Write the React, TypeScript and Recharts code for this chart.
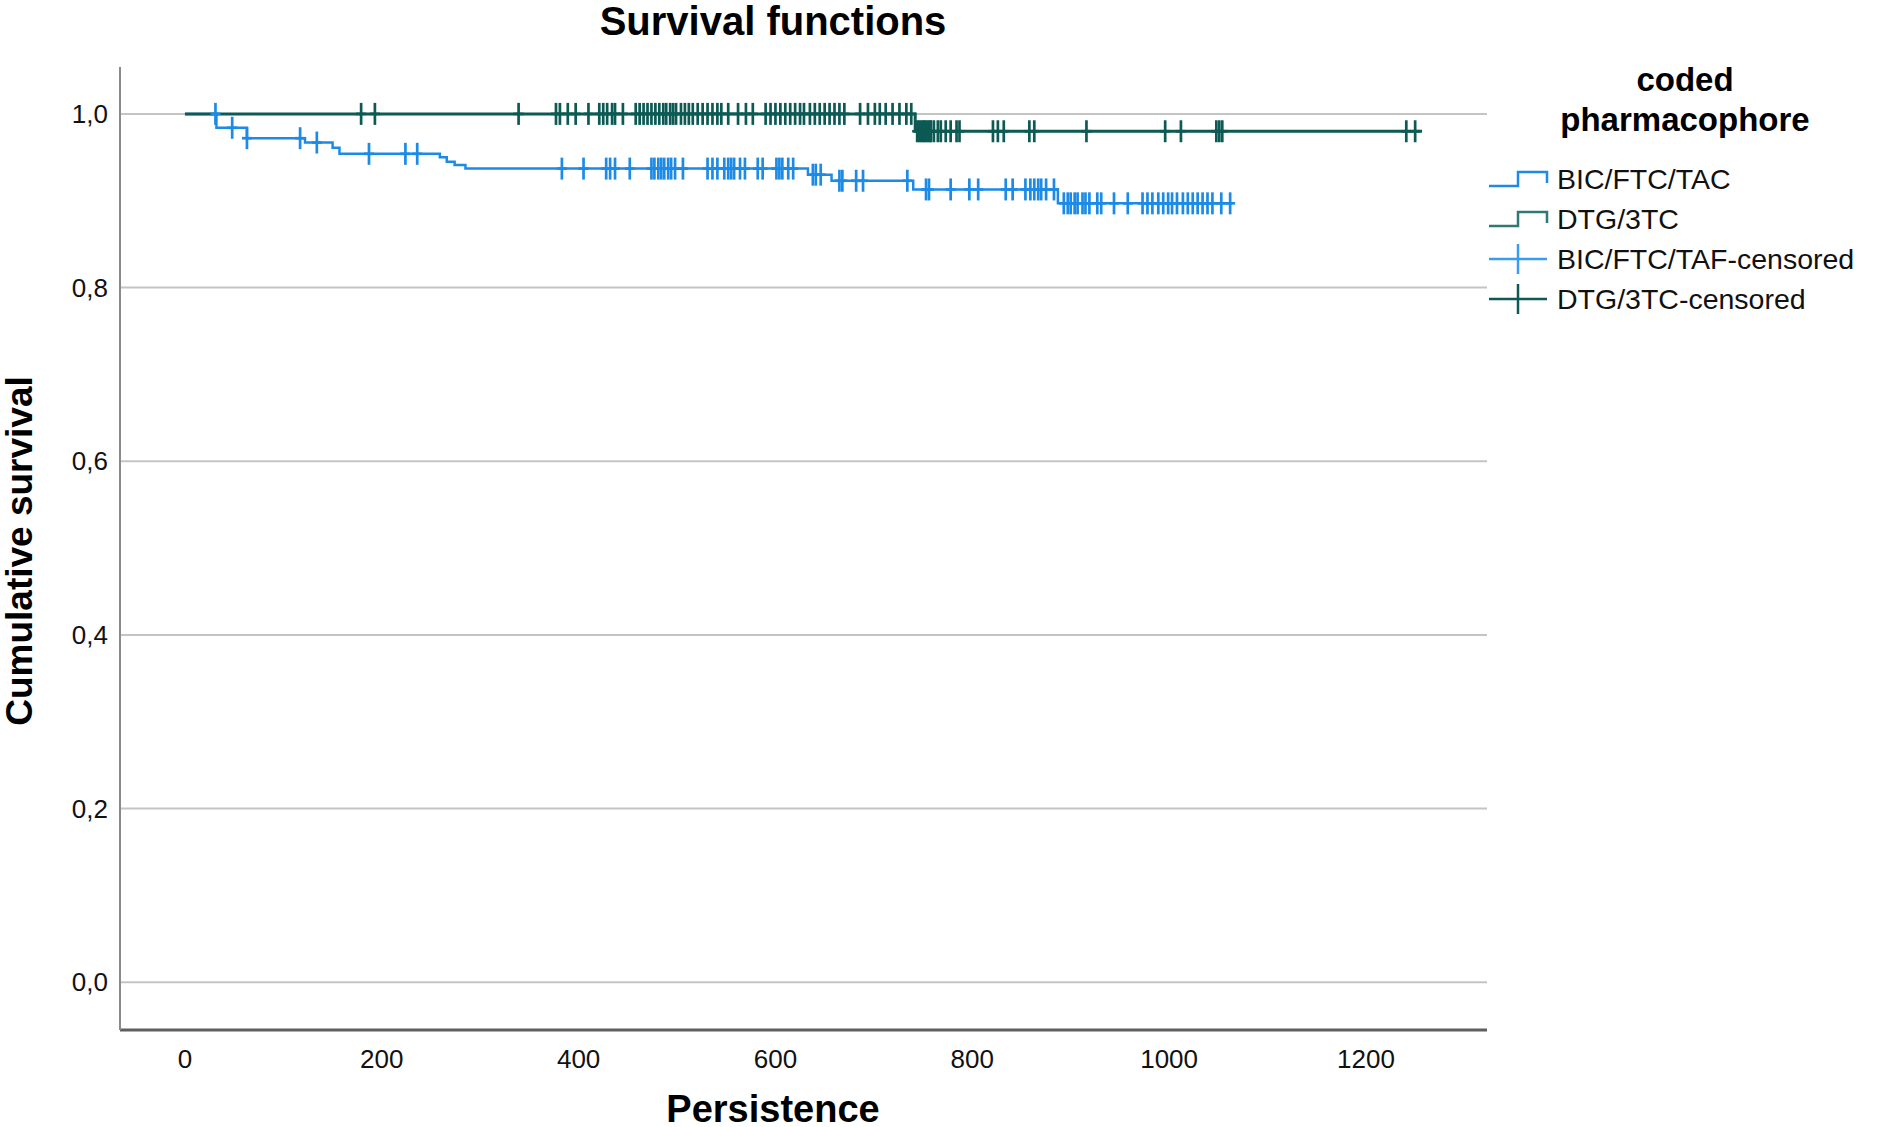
import React from 'react'
import { ComposedChart, Line, Scatter, XAxis, YAxis, ReferenceLine } from 'recharts'

// Kaplan-Meier step points (time, cumulative survival)
const BIC_TIMES = [0, 32, 63, 122, 150, 157, 259, 266, 274, 285, 633, 657, 740, 887, 1064]
const BIC_SURV = [1, 0.984, 0.972, 0.967, 0.961, 0.954, 0.95, 0.945, 0.941, 0.937, 0.93, 0.923, 0.913, 0.897, 0.897]
const DTG_TIMES = [0, 742, 1257]
const DTG_SURV = [1, 0.98, 0.98]

// censored observations
const BIC_CENSORED = [
  31, 48, 63, 117, 134, 187, 224, 236, 383, 405, 428, 432, 437, 452, 474, 477, 481, 484, 487, 491, 494, 498,
  506, 531, 536, 541, 548, 552, 555, 558, 564, 569, 582, 587, 601, 604, 607, 613, 618, 638, 641, 646, 665,
  668, 682, 689, 734, 753, 756, 778, 797, 806, 834, 841, 854, 859, 863, 867, 870, 875, 883, 893, 897, 900,
  904, 907, 912, 915, 919, 927, 931, 944, 958, 973, 978, 983, 989, 994, 999, 1003, 1008, 1014, 1019, 1024,
  1029, 1034, 1039, 1044, 1053, 1062,
]
const DTG_CENSORED = [
  179, 193, 339, 377, 381, 389, 397, 410, 421, 425, 429, 434, 437, 445, 458, 462, 466, 470, 474, 478, 482,
  486, 489, 493, 496, 499, 504, 508, 512, 516, 521, 526, 531, 536, 541, 545, 552, 562, 570, 577, 590, 595,
  600, 605, 610, 615, 620, 625, 629, 635, 640, 645, 650, 655, 660, 665, 670, 686, 694, 701, 706, 712, 719,
  726, 733, 738, 744, 746, 748, 750, 751, 753, 755, 757, 758, 761, 765, 768, 773, 778, 784, 787, 821, 826,
  832, 858, 863, 916, 996, 1012, 1048, 1051, 1054, 1241, 1250,
]

const X_TICKS = [0, 200, 400, 600, 800, 1000, 1200]
const Y_TICKS = [0, 0.2, 0.4, 0.6, 0.8, 1.0]

const BLUE = '#1d8be6'
const GREEN = '#0c5a53'
const FONT = '"Liberation Sans", Arial, sans-serif'

const steps = (times: number[], surv: number[]) => times.map((t, i) => ({ t, s: surv[i] }))

// survival value of the curve at time t (value of last step at or before t)
const survivalAt = (times: number[], surv: number[], t: number) => {
  let v = surv[0]
  for (let i = 0; i < times.length; i++) if (times[i] <= t) v = surv[i]
  return v
}

const bicLine = steps(BIC_TIMES, BIC_SURV)
const dtgLine = steps(DTG_TIMES, DTG_SURV)
const bicCens = BIC_CENSORED.map((t) => ({ t, s: survivalAt(BIC_TIMES, BIC_SURV, t) }))
const dtgCens = DTG_CENSORED.map((t) => ({ t, s: survivalAt(DTG_TIMES, DTG_SURV, t) }))

const censorShape = (color: string) => (props: any) => {
  const { cx, cy } = props
  return (
    <g>
      <line x1={cx} x2={cx} y1={cy - 11} y2={cy + 11} stroke={color} strokeWidth={2.7} />
      <line x1={cx - 5} x2={cx + 5} y1={cy} y2={cy} stroke={color} strokeWidth={2.7} />
    </g>
  )
}

const fmt = (v: number) => v.toFixed(1).replace('.', ',')

function LegendIcon({ kind, color }: { kind: 'step' | 'cross'; color: string }) {
  return (
    <svg width={60} height={32} style={{ display: 'block' }}>
      {kind === 'step' ? (
        <polyline points="0,23 29,23 29,9 58,9 58,20" fill="none" stroke={color} strokeWidth={2.5} />
      ) : (
        <g>
          <line x1={0} x2={58} y1={16} y2={16} stroke={color} strokeWidth={2.5} />
          <line x1={29} x2={29} y1={1} y2={31} stroke={color} strokeWidth={2.5} />
        </g>
      )}
    </svg>
  )
}

const LEGEND = [
  { label: 'BIC/FTC/TAC', kind: 'step' as const, color: BLUE },
  { label: 'DTG/3TC', kind: 'step' as const, color: '#2f7a72' },
  { label: 'BIC/FTC/TAF-censored', kind: 'cross' as const, color: '#3a9cf0' },
  { label: 'DTG/3TC-censored', kind: 'cross' as const, color: GREEN },
]

export default function App() {
  return (
    <div style={{ position: 'relative', width: 1895, height: 1127, background: '#fff', fontFamily: FONT }}>
      <style>{'body{margin:0}'}</style>
      <ComposedChart width={1895} height={1127} margin={{ top: 67, right: 408, bottom: 37, left: 20 }}>
        <XAxis
          dataKey="t"
          type="number"
          domain={[-66, 1323]}
          ticks={X_TICKS}
          allowDataOverflow
          height={60}
          tickLine={false}
          tickSize={0}
          tickMargin={20}
          axisLine={{ stroke: '#5f5f5f', strokeWidth: 3 }}
          tick={{ fill: '#111', fontSize: 26, fontFamily: FONT }}
        />
        <YAxis
          type="number"
          domain={[-0.055, 1.054]}
          ticks={Y_TICKS}
          allowDataOverflow
          width={100}
          tickLine={false}
          tickSize={0}
          tickMargin={12}
          tickFormatter={fmt}
          axisLine={{ stroke: '#8a8a8a', strokeWidth: 2 }}
          tick={{ fill: '#111', fontSize: 26, fontFamily: FONT }}
        />
        {Y_TICKS.map((v) => (
          <ReferenceLine key={v} y={v} stroke="#c4c4c4" strokeWidth={2} />
        ))}
        <Line data={bicLine} dataKey="s" type="stepAfter" stroke={BLUE} strokeWidth={2.5} dot={false} activeDot={false} isAnimationActive={false} />
        <Line data={dtgLine} dataKey="s" type="stepAfter" stroke={GREEN} strokeWidth={3} dot={false} activeDot={false} isAnimationActive={false} />
        <Scatter data={bicCens} dataKey="s" shape={censorShape(BLUE)} isAnimationActive={false} />
        <Scatter data={dtgCens} dataKey="s" shape={censorShape(GREEN)} isAnimationActive={false} />
      </ComposedChart>

      {/* title and axis titles */}
      <div style={{ position: 'absolute', left: 0, width: 1546, top: -1, textAlign: 'center', fontWeight: 'bold', fontSize: 40, lineHeight: '44px' }}>
        Survival functions
      </div>
      <div style={{ position: 'absolute', left: 0, width: 1546, top: 1088, textAlign: 'center', fontWeight: 'bold', fontSize: 38, lineHeight: '42px' }}>
        Persistence
      </div>
      <div
        style={{
          position: 'absolute', left: 20, top: 551, transform: 'translate(-50%, -50%) rotate(-90deg)',
          whiteSpace: 'nowrap', fontWeight: 'bold', fontSize: 37, lineHeight: '40px',
        }}
      >
        Cumulative survival
      </div>

      {/* legend */}
      <div style={{ position: 'absolute', left: 1545, width: 280, top: 60, textAlign: 'center', fontWeight: 'bold', fontSize: 33, lineHeight: '40px' }}>
        coded<br />pharmacophore
      </div>
      <div style={{ position: 'absolute', left: 1489, top: 159 }}>
        {LEGEND.map((l) => (
          <div key={l.label} style={{ display: 'flex', alignItems: 'center', height: 40, fontSize: 28.5, color: '#111' }}>
            <LegendIcon kind={l.kind} color={l.color} />
            <span style={{ marginLeft: 8 }}>{l.label}</span>
          </div>
        ))}
      </div>
    </div>
  )
}
